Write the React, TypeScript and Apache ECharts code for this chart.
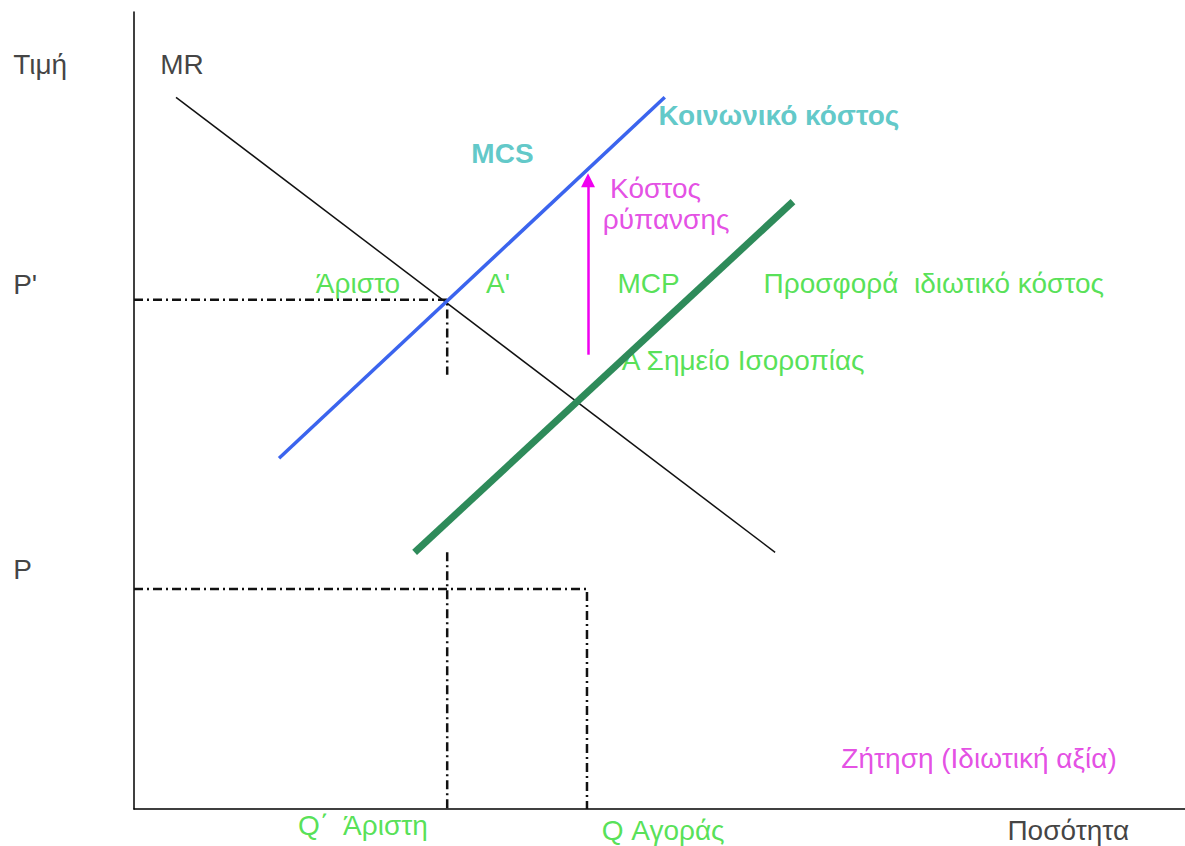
import React, { useEffect, useRef } from "react";
import * as echarts from "echarts";

const FONT = "'Liberation Sans', Arial, Helvetica, sans-serif";

// Axis extents (quantity on x, price on y)
const X_MIN = 0;
const X_MAX = 100;
const Y_MIN = 0;
const Y_MAX = 100;

// Curves, as [quantity, price]
const mrCurve = [
  [4.0, 89.3],
  [61.0, 32.2],
];
const mcsCurve = [
  [13.8, 44.0],
  [50.5, 89.3],
];
const mcpCurve = [
  [26.7, 32.2],
  [62.7, 76.2],
];

// Key quantities and prices
const qOptimal = 29.8; // Q΄
const pOptimal = 63.9; // P'
const pOptimalGuideEnd = 54.5;
const qMarket = 43.1; // Q
const pMarket = 27.6; // P
const qOptimalLowerGuideTop = 32.2;

// Pollution cost arrow (quantity, price from -> to)
const arrowQuantity = 43.2;
const arrowFrom = 57.0;
const arrowTo = 78.9;

// Annotation texts, anchors (left, middle) and colour groups
const labelTexts = [
  "Τιμή",
  "MR",
  "P'",
  "P",
  "MCS",
  "Κοινωνικό κόστος",
  "Κόστος",
  "ρύπανσης",
  "Άριστο",
  "A'",
  "MCP",
  "Προσφορά  ιδιωτικό κόστος",
  "A Σημείο Ισοροπίας",
  "Ζήτηση (Ιδιωτική αξία)",
  "Q΄  Άριστη",
  "Q Αγοράς",
  "Ποσότητα",
];
const labelQuantity = [
  -11.5, 2.5, -11.5, -11.5, 32.1, 49.9, 45.3, 44.6, 17.3, 33.5, 46.0, 59.9,
  46.4, 67.3, 15.6, 44.5, 83.1,
];
const labelPrice = [
  93.4, 93.4, 65.8, 30.0, 82.2, 87.0, 77.8, 74.0, 65.9, 65.9, 65.9, 65.9,
  56.3, 6.3, -2.1, -2.65, -2.65,
];
const labelKinds = [
  "black",
  "black",
  "black",
  "black",
  "teal",
  "teal",
  "magenta",
  "magenta",
  "green",
  "green",
  "green",
  "green",
  "green",
  "magenta",
  "green",
  "green",
  "black",
];

const KIND_STYLE: Record<string, any> = {
  black: { color: "#111111", fontWeight: "normal", fontSize: 28 },
  green: { color: "#2bd92b", fontWeight: "normal", fontSize: 28 },
  teal: { color: "#38baba", fontWeight: "bold", fontSize: 28 },
  magenta: { color: "#dd22dd", fontWeight: "normal", fontSize: 28 },
};

const DASH_DOT = [9, 4, 2, 4];

export default function App() {
  const ref = useRef<HTMLDivElement>(null);

  useEffect(() => {
    if (!ref.current) return;
    const chart = echarts.init(ref.current, undefined, { renderer: "svg" });

    const labelData = labelTexts.map((text, i) => {
      const s = KIND_STYLE[labelKinds[i]];
      return {
        value: [labelQuantity[i], labelPrice[i]],
        label: {
          show: true,
          position: [0, 0],
          align: "left",
          verticalAlign: "middle",
          formatter: text,
          color: s.color,
          fontWeight: s.fontWeight,
          fontSize: s.fontSize,
          fontFamily: FONT,
        },
      };
    });

    const lineSeries = (data: number[][], color: string, width: number, z: number, type: any = "solid") => ({
      type: "line",
      data,
      showSymbol: false,
      symbol: "none",
      silent: true,
      z,
      clip: false,
      lineStyle: { color, width, type, cap: "butt" },
    });

    chart.setOption({
      animation: false,
      backgroundColor: "#ffffff",
      grid: { left: 134, right: 0, top: 12, bottom: 37, containLabel: false },
      xAxis: {
        type: "value",
        min: X_MIN,
        max: X_MAX,
        axisLine: { show: true, onZero: false, lineStyle: { color: "#000", width: 1.5 } },
        axisTick: { show: false },
        axisLabel: { show: false },
        splitLine: { show: false },
      },
      yAxis: {
        type: "value",
        min: Y_MIN,
        max: Y_MAX,
        axisLine: { show: true, onZero: false, lineStyle: { color: "#000", width: 1.5 } },
        axisTick: { show: false },
        axisLabel: { show: false },
        splitLine: { show: false },
      },
      series: [
        {
          type: "scatter",
          z: 1,
          clip: false,
          silent: true,
          symbolSize: 0,
          data: labelData,
        },
        lineSeries(
          [
            [X_MIN, pOptimal],
            [qOptimal, pOptimal],
            [qOptimal, pOptimalGuideEnd],
          ],
          "#111",
          2.5,
          2,
          DASH_DOT
        ),
        lineSeries(
          [
            [X_MIN, pMarket],
            [qMarket, pMarket],
            [qMarket, Y_MIN],
          ],
          "#111",
          2.5,
          2,
          DASH_DOT
        ),
        lineSeries(
          [
            [qOptimal, qOptimalLowerGuideTop],
            [qOptimal, Y_MIN],
          ],
          "#111",
          2.5,
          2,
          DASH_DOT
        ),
        lineSeries(mrCurve, "#111", 1.5, 3),
        lineSeries(mcsCurve, "#3b64ee", 3.5, 4),
        lineSeries(mcpCurve, "#2e8b5a", 7, 5),
        {
          type: "lines",
          coordinateSystem: "cartesian2d",
          z: 6,
          silent: true,
          symbol: ["none", "triangle"],
          symbolSize: 14,
          lineStyle: { color: "#f000f0", width: 2.5, opacity: 1 },
          data: [
            {
              coords: [
                [arrowQuantity, arrowFrom],
                [arrowQuantity, arrowTo],
              ],
            },
          ],
        },
      ],
    });

    return () => chart.dispose();
  }, []);

  return (
    <div
      ref={ref}
      style={{ position: "fixed", left: 0, top: 0, width: 1185, height: 846, background: "#fff" }}
    />
  );
}
